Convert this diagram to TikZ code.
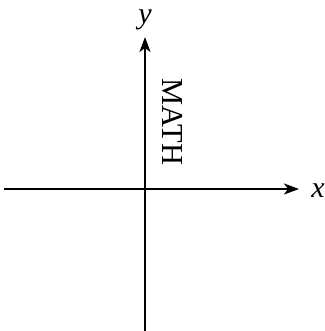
\documentclass[tikz,border=0pt]{standalone}
\usepackage{fontspec}
\setmainfont{Liberation Serif}
\usetikzlibrary{arrows.meta}
\begin{document}
\begin{tikzpicture}[x=1pt,y=1pt,
  axis/.style={line width=2.2pt,-{Stealth[length=15pt,width=11pt,inset=4pt]}},
  lbl/.style={inner sep=0pt,font=\fontsize{30}{34}\selectfont\itshape}]
\useasboundingbox (0,0) rectangle (324,331);
\coordinate (xs) at (4,142);
\coordinate (xe) at (299,142);
\coordinate (ys) at (145,0);
\coordinate (ye) at (145,294);
\draw[axis] (xs) -- (xe);
\draw[axis] (ys) -- (ye);
\node[lbl] (xl) at (318,140.5) {x};
\node[lbl] (yl) at (145,311) {y};
\node[inner sep=0pt,rotate=-90,font=\fontsize{30.5}{34}\selectfont] (m) at (173,209) {MATH};
\end{tikzpicture}
\end{document}
